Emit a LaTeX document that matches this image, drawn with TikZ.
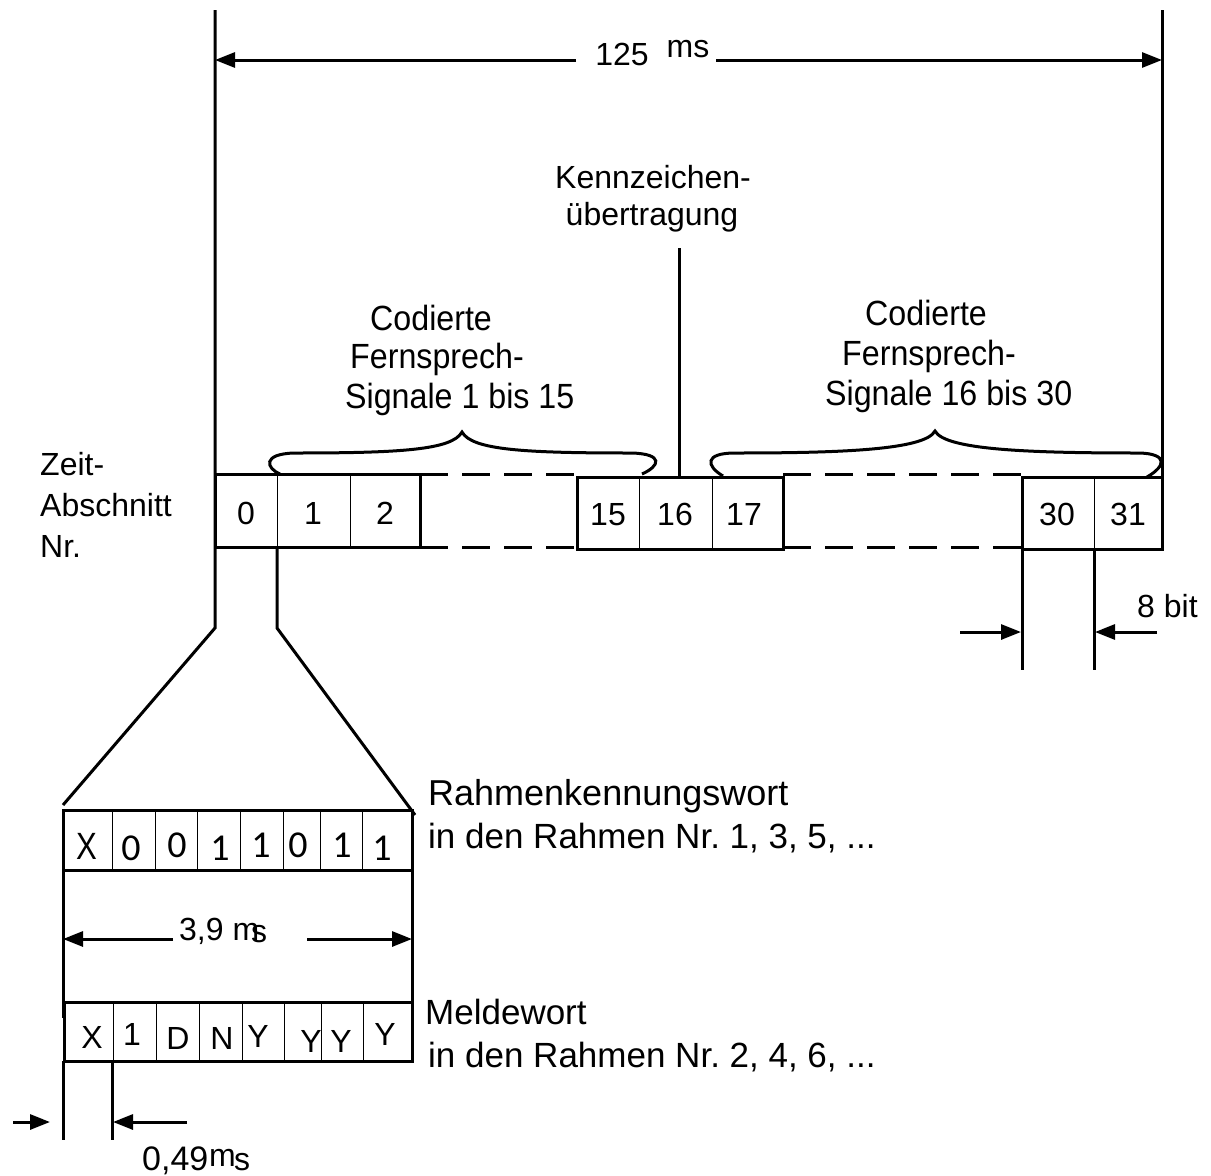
\documentclass[tikz,border=0pt]{standalone}
\usepackage{fontspec}
\setmainfont{Liberation Sans}
\newfontfamily\condfont[FakeStretch=0.92]{Liberation Sans}
\newfontfamily\narrowfont[FakeStretch=0.82]{Liberation Sans}
\newfontfamily\calib{Carlito}
\usetikzlibrary{arrows.meta}
\frenchspacing
\newcommand\fsMain{\fontsize{32}{38}\selectfont}
\newcommand\fsCode{\fontsize{35}{42}\selectfont\condfont}
\newcommand\fsBig{\fontsize{35}{42}\selectfont}
\newcommand\fsX{\fontsize{38}{42}\selectfont\narrowfont}
\newcommand\fsDig{\fontsize{38}{44}\selectfont\calib}
\newcommand\fsCell{\fontsize{32}{36}\selectfont}
\newcommand\fsNum{\fontsize{32}{36}\selectfont}
\tikzset{
  mainline/.style={line width=3pt},
  divline/.style={line width=1pt},
  dashline/.style={line width=3pt, dash pattern=on 28pt off 14pt},
  arr/.style={line width=3pt, -{Triangle[length=20pt,width=15pt]}},
  txt/.style={font=\fsMain, inner sep=0pt, anchor=base west},
  ctxt/.style={font=\fsMain, inner sep=0pt, anchor=base},
  codetxt/.style={font=\fsCode, inner sep=0pt, anchor=base west},
  numtxt/.style={font=\fsNum, inner sep=0pt, anchor=base},
  btxt/.style={font=\fsBig, inner sep=0pt, anchor=base west},
}
\begin{document}
\begin{tikzpicture}[x=1pt,y=-1pt]
\useasboundingbox (0,0) rectangle (1211,1176);
\fill[white] (0,0) rectangle (1211,1176);

% ---------- main verticals and 125 ms ----------
\coordinate (Ltop) at (215,10);
\coordinate (Lbend) at (215,628);
\coordinate (Ldiag) at (63,805);
\coordinate (Rtop) at (1162,10);
\coordinate (Rbot) at (1162,477);
\coordinate (Mtop) at (277,547);
\coordinate (Mbend) at (277,628);
\coordinate (Mdiag) at (415,815);
\draw[mainline] (Ltop) -- (Lbend) -- (Ldiag);
\draw[mainline] (Mtop) -- (Mbend) -- (Mdiag);
\draw[mainline] (Rtop) -- (Rbot);

\coordinate (aL) at (215,60);
\coordinate (aLe) at (576,60);
\coordinate (aR) at (716,60);
\coordinate (aRe) at (1162,60);
\draw[arr] (aLe) -- (aL);
\draw[arr] (aR) -- (aRe);
\node[ctxt] (t125) at (622,65) {125};
\node[ctxt] (tms) at (688,57) {ms};

% ---------- Kennzeichen ----------
\node[ctxt] (kz1) at (653,188) {Kennzeichen-};
\node[ctxt] (kz2) at (652,225) {übertragung};
\coordinate (kzA) at (679,248);
\coordinate (kzB) at (679,477);
\draw[mainline] (kzA) -- (kzB);

% ---------- Codierte labels ----------
\node[codetxt] (cl1) at (370,330) {Codierte};
\node[codetxt] (cl2) at (350,368) {Fernsprech-};
\node[codetxt] (cl3) at (345,408) {Signale 1 bis 15};
\node[codetxt] (cr1) at (865,325) {Codierte};
\node[codetxt] (cr2) at (842,365) {Fernsprech-};
\node[codetxt] (cr3) at (825,405) {Signale 16 bis 30};

% ---------- braces ----------
\draw[mainline] (280,474) .. controls (266,468) and (262,454) .. (294,453)
  .. controls (400,453) and (452,450) .. (462,432)
  .. controls (472,450) and (524,453) .. (632,453)
  .. controls (664,454) and (660,466) .. (642,474);
\draw[mainline] (723,476) .. controls (706,466) and (704,453) .. (735,453)
  .. controls (840,453) and (925,450) .. (935,431)
  .. controls (945,450) and (1030,453) .. (1140,453)
  .. controls (1168,454) and (1166,466) .. (1147,477);

% ---------- Zeit-Abschnitt ----------
\node[txt] (z1) at (40,475) {Zeit-};
\node[txt] (z2) at (40,516) {Abschnitt};
\node[txt] (z3) at (40,557) {Nr.};

% ---------- main row ----------
\draw[divline] (277,474) -- (277,547);
\draw[divline] (350,474) -- (350,547);
\draw[mainline] (215,474) rectangle (420,547);
\draw[divline] (639,477) -- (639,549);
\draw[divline] (712,477) -- (712,549);
\draw[mainline] (577,477) rectangle (783,549);
\draw[divline] (1094,477) -- (1094,549);
\draw[mainline] (1022,477) rectangle (1162,549);
\draw[dashline] (420,474) -- (577,474);
\draw[dashline] (420,547) -- (577,547);
\draw[dashline] (783,474) -- (1022,474);
\draw[dashline] (783,547) -- (1022,547);

\node[numtxt] (n0) at (246,524) {0};
\node[numtxt] (n1) at (313,524) {1};
\node[numtxt] (n2) at (385,524) {2};
\node[numtxt] (n15) at (608,525) {15};
\node[numtxt] (n16) at (675,525) {16};
\node[numtxt] (n17) at (744,525) {17};
\node[numtxt] (n30) at (1057,525) {30};
\node[numtxt] (n31) at (1128,525) {31};

% ---------- 8 bit ----------
\coordinate (b1t) at (1022,549);
\coordinate (b1b) at (1022,670);
\coordinate (b2t) at (1094,549);
\coordinate (b2b) at (1094,670);
\draw[mainline] (b1t) -- (b1b);
\draw[mainline] (b2t) -- (b2b);
\coordinate (ba1) at (960,632);
\coordinate (ba1e) at (1021,632);
\coordinate (ba2) at (1157,632);
\coordinate (ba2e) at (1095,632);
\draw[arr] (ba1) -- (ba1e);
\draw[arr] (ba2) -- (ba2e);
\node[txt] (t8) at (1137,617) {8 bit};

% ---------- Rahmenkennungswort box ----------
\foreach \x in {112,155,197,240,283,320,362} \draw[divline] (\x,810) -- (\x,870);
\draw[mainline] (63,810) rectangle (412,870);
\node[font=\fsX, inner sep=0pt, anchor=base] (rX) at (87,859) {X};
\node[font=\fsDig, inner sep=0pt, anchor=base] (r1) at (131,860) {0};
\node[font=\fsDig, inner sep=0pt, anchor=base] (r2) at (177,857) {0};
\node[font=\fsDig, inner sep=0pt, anchor=base] (r3) at (220,860) {1};
\node[font=\fsDig, inner sep=0pt, anchor=base] (r4) at (261,857) {1};
\node[font=\fsDig, inner sep=0pt, anchor=base] (r5) at (298,857) {0};
\node[font=\fsDig, inner sep=0pt, anchor=base] (r6) at (342,857) {1};
\node[font=\fsDig, inner sep=0pt, anchor=base] (r7) at (382,860) {1};
\node[btxt, font=\fontsize{36}{42}\selectfont] (rl1) at (428,805) {Rahmenkennungswort};
\node[btxt] (rl2) at (428,848) {in den Rahmen Nr. 1, 3, 5, ...};

% ---------- 3,9 ms ----------
\coordinate (v1a) at (63,870);
\coordinate (v1b) at (63,1018);
\coordinate (v2a) at (412,870);
\coordinate (v2b) at (412,1018);
\draw[mainline] (v1a) -- (v1b);
\draw[mainline] (v2a) -- (v2b);
\coordinate (d1) at (173,939);
\coordinate (d1e) at (63,939);
\coordinate (d2) at (307,939);
\coordinate (d2e) at (412,939);
\draw[arr] (d1) -- (d1e);
\draw[arr] (d2) -- (d2e);
\node[txt] (t39) at (179,940) {3,9 m};
\node[txt] (t39s) at (251,942) {s};

% ---------- Meldewort box ----------
\foreach \x in {113,156,199,242,284,321,363} \draw[divline] (\x,1002) -- (\x,1061);
\draw[mainline] (64,1002) rectangle (412,1061);
\node[font=\fsCell, inner sep=0pt, anchor=base] (mX) at (92,1048) {X};
\node[font=\fsCell, inner sep=0pt, anchor=base] (m1) at (132,1045) {1};
\node[font=\fsCell, inner sep=0pt, anchor=base] (mD) at (178,1049) {D};
\node[font=\fsCell, inner sep=0pt, anchor=base] (mN) at (222,1049) {N};
\node[font=\fsCell, inner sep=0pt, anchor=base] (mY1) at (258,1047) {Y};
\node[font=\fsCell, inner sep=0pt, anchor=base] (mY2) at (311,1052) {Y};
\node[font=\fsCell, inner sep=0pt, anchor=base] (mY3) at (341,1052) {Y};
\node[font=\fsCell, inner sep=0pt, anchor=base] (mY4) at (385,1045) {Y};
\node[btxt] (ml1) at (425,1024) {Meldewort};
\node[btxt] (ml2) at (428,1067) {in den Rahmen Nr. 2, 4, 6, ...};

% ---------- 0,49 ms ----------
\coordinate (w1a) at (63,1061);
\coordinate (w1b) at (63,1140);
\coordinate (w2a) at (112,1061);
\coordinate (w2b) at (112,1140);
\draw[mainline] (w1a) -- (w1b);
\draw[mainline] (w2a) -- (w2b);
\coordinate (e1) at (13,1122);
\coordinate (e1e) at (50,1122);
\coordinate (e2) at (187,1122);
\coordinate (e2e) at (113,1122);
\draw[arr] (e1) -- (e1e);
\draw[arr] (e2) -- (e2e);
\node[txt, font=\fontsize{34}{40}\selectfont] (t049) at (142,1170) {0,49};
\node[txt] (t049m) at (209,1166) {m};
\node[txt] (t049s) at (234,1170) {s};
\end{tikzpicture}
\end{document}
